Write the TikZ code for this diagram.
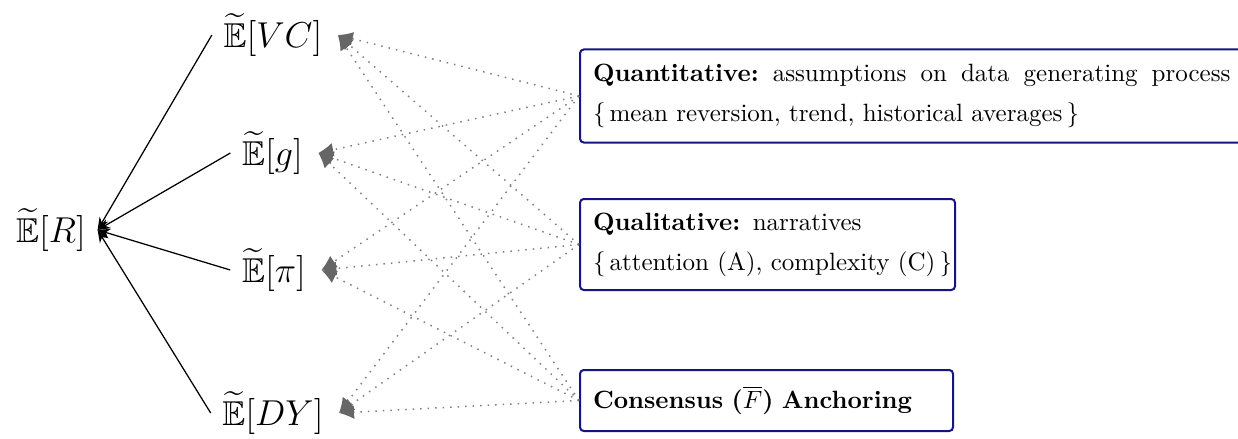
\documentclass[tikz,border=0pt]{standalone}
\usepackage{amsmath,amssymb}
\usetikzlibrary{arrows.meta}
\definecolor{boxblue}{RGB}{20,20,130}
\begin{document}
\begin{tikzpicture}[x=0.4pt,y=-0.4pt,
  enode/.style={font=\fontsize{13.8}{17}\selectfont, inner sep=4.5pt},
  infobox/.style={draw=boxblue, line width=0.8pt, rounded corners=1.5pt, anchor=west, align=left, inner xsep=5.2pt, inner ysep=0pt, font=\normalsize},
  solidarrow/.style={-{Stealth[length=5pt,width=4pt]}, black, line width=0.5pt},
  dotarrow/.style={-{Latex[length=6pt,width=5.5pt,color=black!60]}, draw=black!50, line width=0.6pt, dash pattern=on 0.6pt off 2.4pt}]
\useasboundingbox (0,0) rectangle (1238,439);
\node[enode] (ER) at (51,230) {$\widetilde{\mathbb{E}}[R]$};
\node[enode] (VC) at (273,35) {$\widetilde{\mathbb{E}}[VC]$};
\node[enode] (g) at (272.5,153) {$\widetilde{\mathbb{E}}[g]$};
\node[enode] (pi) at (274,270) {$\widetilde{\mathbb{E}}[\pi]$};
\node[enode] (DY) at (273,413) {$\widetilde{\mathbb{E}}[DY]$};
\node[infobox, text width=255pt, minimum height=37.2pt] (quant) at (579,96)
  {\hbox to 255pt{\textbf{Quantitative:}\hskip 3.33pt plus 1fil assumptions\hskip 3.33pt plus 1fil on\hskip 3.33pt plus 1fil data\hskip 3.33pt plus 1fil generating\hskip 3.33pt plus 1fil process}\\[4pt]
   \mbox{\{\,mean reversion, trend, historical averages\,\}}};
\node[infobox, text width=139.6pt, minimum height=36.4pt] (qual) at (579,244.5)
  {\mbox{\textbf{Qualitative:} narratives}\\[4pt]
   \mbox{\{\,attention (A), complexity (C)\,\}}};
\node[infobox, text width=138.8pt, minimum height=24.4pt] (cons) at (579,400.5)
  {\mbox{\textbf{Consensus ($\overline{F}$) Anchoring}}};
\foreach \e in {VC,g,pi,DY} \draw[solidarrow] (\e.west) -- (ER.east);
\foreach \b in {quant,qual,cons} \foreach \e in {VC,g,pi,DY} \draw[dotarrow] (\b.west) -- ([xshift=1.5pt]\e.east);
\end{tikzpicture}
\end{document}
